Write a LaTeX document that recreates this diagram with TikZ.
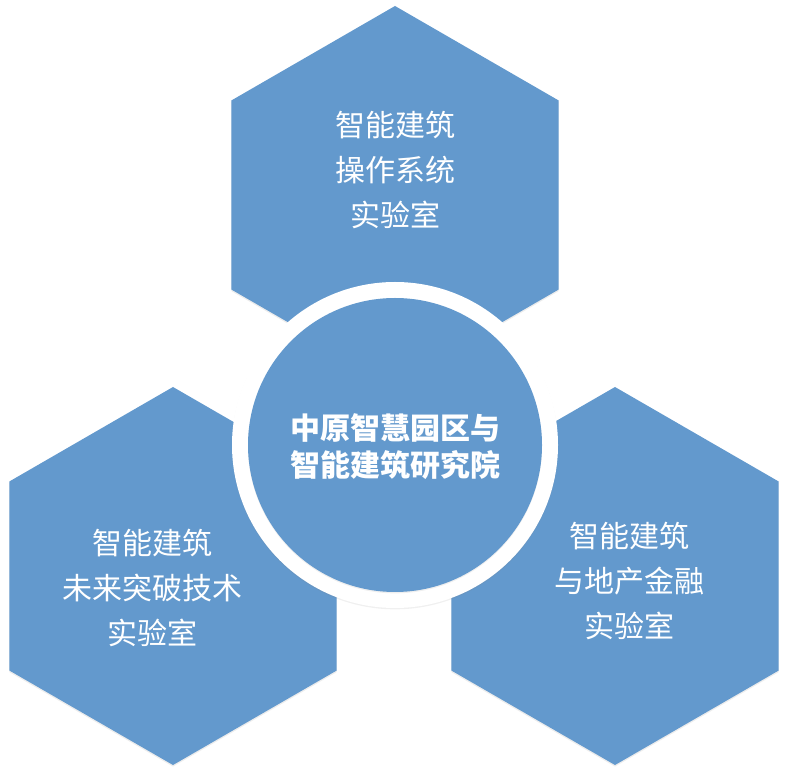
\documentclass[tikz,border=0pt]{standalone}
\usepackage{fontspec}
\newfontfamily\cjk{Noto Sans CJK SC}
\usetikzlibrary{shapes.geometric,shadows}
\definecolor{hexblue}{RGB}{99,153,205}
\tikzset{
  hexagon/.style={regular polygon,regular polygon sides=6,shape border rotate=30,
    minimum size=283.5pt,inner sep=0pt,fill=hexblue,
    drop shadow={opacity=.15,shadow xshift=0pt,shadow yshift=-1.2pt}},
  ring/.style={circle,fill=white,minimum size=244.5pt,inner sep=0pt,
    drop shadow={opacity=.12,shadow xshift=0pt,shadow yshift=-1pt}},
  hub/.style={circle,fill=hexblue,minimum size=220.5pt,inner sep=0pt,
    drop shadow={opacity=.12,shadow xshift=0pt,shadow yshift=-1pt}},
  labtext/.style={text=white,align=center,font=\cjk\fontsize{22.5}{33.75}\selectfont},
  hubtext/.style={text=white,align=center,font=\cjk\bfseries\fontsize{22.5}{27.75}\selectfont}
}
\begin{document}
\begin{tikzpicture}[x=0.75pt,y=0.75pt]
	\useasboundingbox (0,0) rectangle (788,778);
	\node[hexagon] (top) at (395,583) {};
	\node[hexagon] (left) at (173,202) {};
	\node[hexagon] (right) at (615,202) {};
	\node[ring] (border) at (395,333) {};
	\node[hub] (hub) at (395,333) {};
	\node[labtext] (topLab) at ([shift={(0,25)}]top) {智能建筑\\操作系统\\实验室};
	\node[labtext] (leftLab) at ([shift={(-21,-12)}]left) {智能建筑\\未来突破技术\\实验室};
	\node[labtext] (rightLab) at ([shift={(14,-5)}]right) {智能建筑\\与地产金融\\实验室};
	\node[hubtext] (hubLab) at ([shift={(0,-2)}]hub) {中原智慧园区与\\智能建筑研究院};
\end{tikzpicture}
\end{document}
